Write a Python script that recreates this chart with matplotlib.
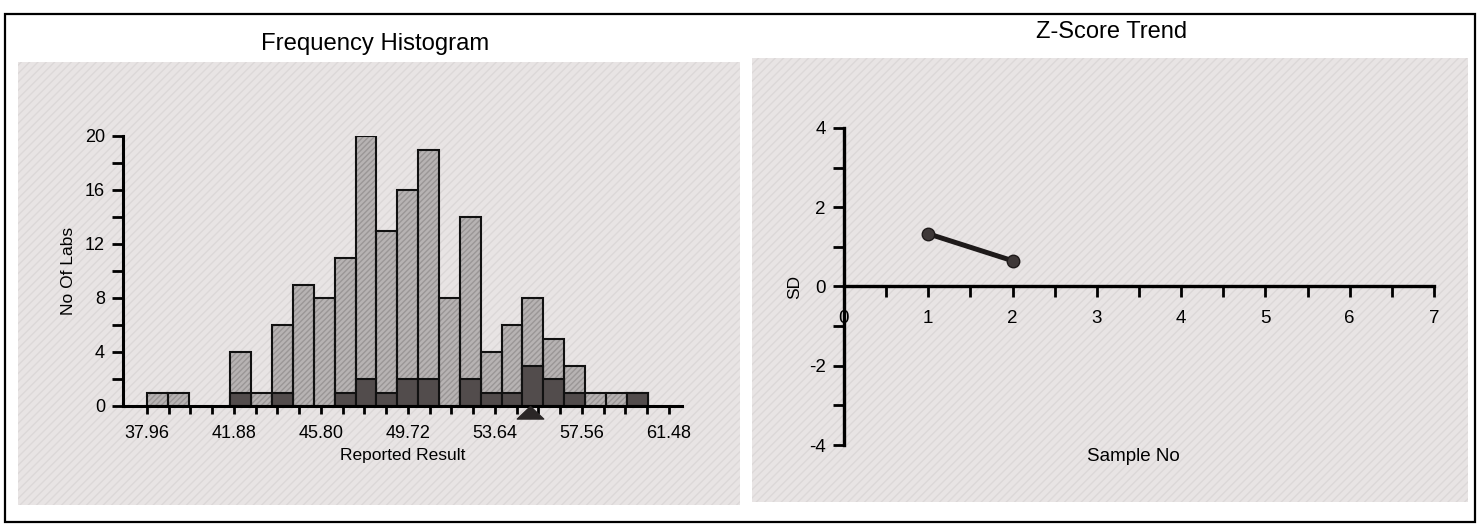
import matplotlib
matplotlib.use("Agg")
import matplotlib.pyplot as plt
from matplotlib.patches import Rectangle
from matplotlib.ticker import MultipleLocator, FixedLocator
import numpy as np

plt.rcParams["font.family"] = ["Liberation Sans", "DejaVu Sans"]
plt.rcParams["axes.unicode_minus"] = False

# histogram data
bin_start = 37.96
bin_width = 0.94
total_counts = [1, 1, 0, 0, 4, 1, 6, 9, 8, 11, 20, 13, 16, 19, 8, 14, 4, 6, 8, 5, 3, 1, 1, 1]
dark_counts = [0, 0, 0, 0, 1, 0, 1, 0, 0, 1, 2, 1, 2, 2, 0, 2, 1, 1, 3, 2, 1, 0, 0, 1]
x_tick_labels = [37.96, 41.88, 45.80, 49.72, 53.64, 57.56, 61.48]
assigned_value = 55.2

# z-score data
sample_no = [1, 2]
z_scores = [1.33, 0.65]

W, H = 1480, 527
fig = plt.figure(figsize=(W / 100, H / 100), dpi=100)

def fbox(x0, y0, x1, y1):
    # pixel box -> figure fraction rect
    return [x0 / W, 1 - y1 / H, (x1 - x0) / W, (y1 - y0) / H]

panel_col = "#e8e4e4"
for (x0, y0, x1, y1) in [(18, 62, 740, 505), (752, 58, 1468, 502)]:
    r = fbox(x0, y0, x1, y1)
    fig.patches.append(Rectangle((r[0], r[1]), r[2], r[3], transform=fig.transFigure,
                                 facecolor=panel_col, edgecolor="#dcd8d8", hatch="////",
                                 linewidth=0, zorder=-2))

# outer frame
fig.patches.append(Rectangle((5 / W, 1 - 522 / H), 1470 / W, 508 / H, transform=fig.transFigure,
                             facecolor="none", edgecolor="black", linewidth=1.6, zorder=-1))

fig.text(375 / W, 1 - 44 / H, "Frequency Histogram", ha="center", va="center", fontsize=17.2)
fig.text(1112 / W, 1 - 32 / H, "Z-Score Trend", ha="center", va="center", fontsize=17)

# ---- histogram ----
ax1 = fig.add_axes(fbox(123, 136, 682, 406))
ax1.set_facecolor("none")
lefts = bin_start + bin_width * np.arange(len(total_counts))
light = np.array(total_counts) > 0
ax1.bar(lefts[light], np.array(total_counts)[light], width=bin_width, align="edge",
        color="#b7b3b3", edgecolor="#9a9696", hatch="//////", linewidth=0, zorder=2)
ax1.bar(lefts[light], np.array(total_counts)[light], width=bin_width, align="edge",
        color="none", edgecolor="#111111", linewidth=1.5, zorder=3)
dark = np.array(dark_counts) > 0
ax1.bar(lefts[dark], np.array(dark_counts)[dark], width=bin_width, align="edge",
        color="#524c4c", edgecolor="#111111", linewidth=1.5, zorder=4)
# assigned value marker: flat triangle hanging under the axis
tri = [(0, 0), (-1, -0.95), (1, -0.95), (0, 0)]
ax1.plot([assigned_value], [0], marker=tri, markersize=19, color="#2a2626",
         linestyle="none", clip_on=False, zorder=6)
ax1.set_xlim(36.88, 62.07)
ax1.set_ylim(0, 20)
for s in ["top", "right"]:
    ax1.spines[s].set_visible(False)
for s in ["left", "bottom"]:
    ax1.spines[s].set_linewidth(2.2)
    ax1.spines[s].set_zorder(5)
ax1.set_xticks(x_tick_labels)
ax1.set_xticklabels([f"{v:.2f}" for v in x_tick_labels])
ax1.xaxis.set_minor_locator(FixedLocator(np.arange(37.96, 62.0, 0.98)))
ax1.yaxis.set_major_locator(MultipleLocator(4))
ax1.yaxis.set_minor_locator(MultipleLocator(2))
ax1.tick_params(axis="x", which="both", direction="out", length=6, width=2, labelsize=13, pad=8)
ax1.tick_params(axis="y", which="both", direction="out", length=8, width=2, labelsize=13, pad=5)
ax1.set_xlabel("Reported Result", fontsize=12.5, labelpad=4)
ax1.set_ylabel("No Of Labs", fontsize=12.5, labelpad=6)

# ---- z-score trend ----
ax2 = fig.add_axes(fbox(844, 128, 1434, 445))
ax2.set_facecolor("none")
ax2.plot(sample_no, z_scores, color="#1e1a1a", linewidth=3.6, marker="o",
         markersize=9, markerfacecolor="#3e3838", markeredgecolor="#1e1a1a", zorder=4)
ax2.set_xlim(0, 7)
ax2.set_ylim(-4, 4)
for s in ["top", "right"]:
    ax2.spines[s].set_visible(False)
ax2.spines["bottom"].set_position(("data", 0))
for s in ["left", "bottom"]:
    ax2.spines[s].set_linewidth(2.4)
ax2.xaxis.set_major_locator(MultipleLocator(1))
ax2.xaxis.set_minor_locator(MultipleLocator(0.5))
ax2.yaxis.set_major_locator(MultipleLocator(2))
ax2.yaxis.set_minor_locator(MultipleLocator(1))
ax2.tick_params(axis="x", which="both", direction="out", length=8, width=2, labelsize=13.5, pad=9)
ax2.tick_params(axis="y", which="both", direction="out", length=8, width=2, labelsize=13.5, pad=5)
ax2.set_ylabel("SD", fontsize=12.5, labelpad=5)
ax2.text(0.49, -0.01, "Sample No", transform=ax2.transAxes, ha="center", va="top", fontsize=13.5)

fig.savefig("out.png", dpi=100)
